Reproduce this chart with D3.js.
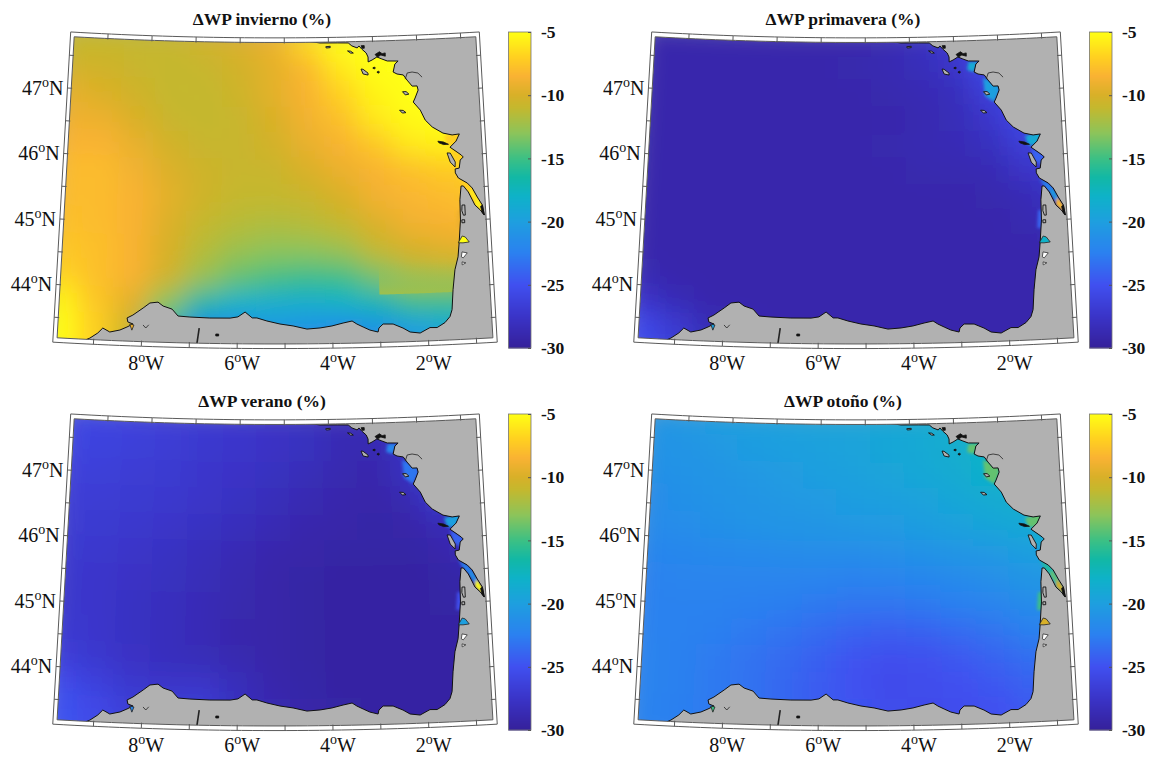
<!DOCTYPE html>
<html>
<head>
<meta charset="utf-8">
<script src="https://cdn.jsdelivr.net/npm/d3@7"></script>
<style>
  body { margin: 0; background: #fff; }
  text { font-family: "Liberation Serif", serif; fill: #111; }
</style>
</head>
<body>
<svg id="chart" width="1151" height="758"></svg>
<script>
const WIDTH = 1151;
const HEIGHT = 758;

// DATA
const TITLES = ['invierno', 'primavera', 'verano', 'otoño'];
const LON_LABELS = [-8, -6, -4, -2];
const LAT_LABELS = [47, 46, 45, 44];
const BAR_TICKS = [-5, -10, -15, -20, -25, -30];

// wave power change (%), rows north to south
const GRID_LONS = [-9.75, -9, -8.25, -7.5, -6.75, -6, -5.25, -4.5, -3.75, -3, -2.25, -1.5, -0.75];
const GRID_LATS = [47.8, 47.4, 47, 46.6, 46.2, 45.8, 45.4, 45, 44.6, 44.2, 43.8, 43.4, 43];

const invierno = [
  [-11, -11, -11, -10.8, -10.3, -9.8, -9, -6.5, -5, -5, -5, -5, -5],
  [-10.5, -10.5, -10.8, -11, -10.8, -10.3, -9.5, -8.2, -6, -5, -5, -5, -5],
  [-9.5, -10, -10.5, -11, -11, -10.5, -9.5, -8.5, -7, -5.5, -5, -5, -5],
  [-9, -9.2, -10, -10.8, -11, -10.8, -10, -8.8, -7.8, -6, -5.2, -5, -5],
  [-8.5, -8.5, -9.3, -10.3, -10.8, -10.8, -10.3, -9.3, -8.5, -7.5, -6, -5.5, -5.5],
  [-8, -8, -8.8, -9.8, -10.5, -10.8, -10.8, -10, -9.2, -8.5, -7.8, -7.3, -7],
  [-8, -8, -8.5, -9.5, -10.5, -11, -11, -10.8, -10, -8.8, -8.3, -8, -7.5],
  [-7.8, -8, -8.5, -9.8, -11, -11.5, -11.8, -11.5, -11, -9.8, -8.8, -8.5, -8],
  [-7.5, -7.8, -8.5, -10, -11.5, -12.5, -13, -13, -12.5, -11, -10, -9.5, -9],
  [-7, -7.8, -8.5, -10.3, -12.5, -14, -14.8, -15.3, -15, -13.5, -12, -11.5, -11.5],
  [-5.5, -7.5, -9.5, -13, -16.5, -18, -18.5, -18.5, -18, -17, -15, -15, -15],
  [-5, -7, -10.5, -16, -22, -21.5, -20.5, -21, -21.5, -21, -20, -19, -19],
  [-5, -7, -11, -17, -23, -23, -23, -22, -22, -21, -20.5, -19, -19]
];

const primavera = [
  [-29, -29, -29, -29, -29, -29, -29, -28.8, -28, -27, -25, -25, -25],
  [-29, -29, -29, -29, -29, -29, -28.9, -28.7, -28.3, -27.5, -25.5, -24, -24],
  [-29, -29, -29, -29, -29, -29, -29, -28.9, -28.6, -28.2, -26.5, -25, -25],
  [-29, -29, -29, -29, -29, -29, -29, -29, -28.8, -28.4, -27.4, -25.5, -25],
  [-29, -29, -29, -29, -29, -29, -29, -28.9, -28.7, -28.5, -28, -26.5, -26],
  [-29, -29, -29, -29, -29, -29, -29, -29, -28.9, -28.8, -28.6, -27.5, -26.5],
  [-29, -29, -29, -29, -29, -29, -29, -29, -29, -29, -28.9, -28.5, -27.5],
  [-29, -29, -29, -29, -29, -29, -29, -29, -29, -29, -29, -28.8, -28],
  [-29, -29, -29, -29, -29, -29, -29, -29, -29, -29, -29, -29, -29],
  [-28.8, -29, -29, -29, -29, -29, -29, -29, -29, -29, -29, -29, -29],
  [-27.6, -28.5, -29, -29, -29, -29, -29, -29, -29, -29, -29, -29, -29],
  [-25.5, -27, -28.4, -28.8, -29, -29, -29, -29, -29, -29, -29, -29, -29],
  [-25, -26.5, -28.4, -28.8, -29, -29, -29, -29, -29, -29, -29, -29, -29]
];

const verano = [
  [-25.8, -26, -26.3, -26.6, -26.9, -27.2, -27.6, -27.9, -28.5, -28.5, -26, -25, -25],
  [-26, -26.2, -26.5, -26.8, -27.1, -27.4, -27.7, -28, -28.6, -28.8, -28, -25, -25],
  [-26.3, -26.5, -26.8, -27, -27.3, -27.6, -28, -28.4, -28.8, -29, -28, -26, -26],
  [-26.6, -26.8, -27, -27.2, -27.5, -27.9, -28.3, -28.7, -29, -29.2, -28.8, -27, -27],
  [-26.8, -27, -27.2, -27.5, -27.9, -28.2, -28.6, -29, -29.2, -29.3, -29.2, -28.5, -28],
  [-27, -27.2, -27.5, -27.8, -28.2, -28.6, -29, -29.2, -29.4, -29.4, -29.4, -29, -28],
  [-27.2, -27.4, -27.7, -28, -28.4, -28.8, -29.2, -29.4, -29.5, -29.5, -29.5, -29.4, -29],
  [-27.2, -27.4, -27.8, -28.1, -28.5, -28.9, -29.2, -29.4, -29.5, -29.5, -29.5, -29.4, -29.4],
  [-27, -27.3, -27.8, -28.1, -28.5, -29, -29.2, -29.4, -29.5, -29.5, -29.5, -29.5, -29.5],
  [-26.6, -27.1, -27.7, -28.1, -28.4, -28.8, -29.2, -29.4, -29.5, -29.5, -29.5, -29.5, -29.5],
  [-25.5, -26.3, -27.2, -27.5, -27.5, -28.2, -29, -29.3, -29.5, -29.5, -29.5, -29.5, -29.5],
  [-24.8, -25.5, -26.5, -26.5, -26.5, -28, -28.8, -29.2, -29.4, -29.5, -29.5, -29.5, -29.5],
  [-24.8, -25.5, -26.5, -26.5, -26.5, -28, -28.8, -29.2, -29.4, -29.5, -29.5, -29.5, -29.5]
];

const otono = [
  [-20.8, -20.5, -20.2, -20, -19.8, -19.6, -19.5, -19.3, -19, -18.5, -18, -17.5, -17],
  [-21, -20.8, -20.5, -20.2, -20, -19.8, -19.6, -19.3, -19, -18.5, -18, -17.5, -17],
  [-21.2, -21, -20.8, -20.6, -20.3, -20, -19.8, -19.5, -19.2, -18.8, -18.2, -18, -18],
  [-21.5, -21.2, -21, -20.8, -20.6, -20.4, -20.2, -20, -19.7, -19.3, -18.8, -18.5, -18.5],
  [-21.6, -21.4, -21.2, -21, -20.9, -20.8, -20.6, -20.4, -20.2, -19.8, -19.4, -19, -19],
  [-22, -21.9, -21.8, -21.7, -21.6, -21.5, -21.5, -21.3, -21.1, -20.8, -20.5, -20, -19.5],
  [-22.3, -22.1, -22.1, -22.1, -22.1, -22.2, -22.3, -22.2, -22, -21.7, -21.3, -20.8, -20.5],
  [-22.3, -22.3, -22.3, -22.5, -22.6, -22.9, -23.1, -23.1, -22.9, -22.5, -22.1, -21.5, -21],
  [-22.3, -22.3, -22.5, -22.8, -23.2, -23.6, -24.1, -24.3, -24.1, -23.6, -23.1, -22.4, -22],
  [-22.2, -22.4, -22.7, -23.2, -23.6, -24.2, -24.9, -25.2, -25.1, -24.6, -24, -23.4, -23],
  [-22.2, -22.4, -22.8, -23.2, -23.8, -24.4, -25, -25.4, -25.3, -25, -24.6, -24, -24],
  [-22.2, -22.5, -22.8, -23.2, -23.8, -24.3, -24.8, -25.3, -25.4, -25.2, -25, -24.5, -24.5],
  [-22.2, -22.5, -22.8, -23.2, -23.8, -24.3, -24.8, -25.3, -25.4, -25.2, -25, -24.5, -24.5]
];

// the stepped area off Biscay in the winter field: west, east, south, north, value
const WINTER_STEP = { west: -3, east: -1.2, south: 43.92, north: 44.4, value: -12.3 };

// coast from the top of the map round the bay to the bottom edge, [lon, lat]
const COAST = [
  [-4.46, 47.8], [-4.19, 47.773], [-3.8, 47.77], [-3.55, 47.766], [-3.47, 47.72], [-3.35, 47.687],
  [-3.31, 47.717], [-3.25, 47.67], [-3.15, 47.607], [-3.11, 47.545], [-3.11, 47.47], [-3.02, 47.498],
  [-2.91, 47.542], [-2.8, 47.509], [-2.68, 47.476], [-2.55, 47.473], [-2.435, 47.47], [-2.51, 47.426],
  [-2.555, 47.305], [-2.47, 47.273], [-2.33, 47.255], [-2.25, 47.175], [-2.14, 47.08], [-2.03, 47.08],
  [-2.01, 47.016], [-2.085, 46.897], [-2.13, 46.837], [-1.98, 46.71], [-1.88, 46.556], [-1.73, 46.445],
  [-1.5, 46.345], [-1.3, 46.31], [-1.14, 46.32], [-1.22, 46.214], [-1.36, 46.125], [-1.21, 46.046],
  [-1.12, 45.997], [-1.08, 45.966], [-1.15, 45.922], [-1.18, 45.8], [-1.27, 45.79], [-1.27, 45.73],
  [-1.21, 45.65], [-1.02, 45.566], [-0.92, 45.487], [-0.82, 45.345], [-0.72, 45.219], [-0.69, 45.065],
  [-0.77, 45.145], [-0.88, 45.225], [-1.01, 45.43], [-1.11, 45.525], [-1.16, 45.526], [-1.2, 45.317],
  [-1.21, 45.01], [-1.26, 44.676], [-1.3, 44.45], [-1.38, 44.255], [-1.44, 43.952], [-1.48, 43.65],
  [-1.53, 43.547], [-1.64, 43.459], [-1.81, 43.388], [-1.96, 43.392], [-2.17, 43.315], [-2.38, 43.336],
  [-2.525, 43.4], [-2.73, 43.466], [-2.94, 43.471], [-3.03, 43.412], [-3.05, 43.351], [-3.22, 43.384],
  [-3.36, 43.433], [-3.49, 43.48], [-3.59, 43.528], [-3.78, 43.5], [-4.015, 43.458], [-4.265, 43.43],
  [-4.54, 43.415], [-4.83, 43.464], [-5.105, 43.494], [-5.38, 43.54], [-5.59, 43.586], [-5.69, 43.586],
  [-5.84, 43.675], [-5.99, 43.6], [-6.155, 43.58], [-6.58, 43.577], [-7, 43.586], [-7.25, 43.597],
  [-7.38, 43.7], [-7.57, 43.743], [-7.68, 43.8], [-7.85, 43.783], [-7.99, 43.703], [-8.2, 43.59],
  [-8.32, 43.543], [-8.3, 43.482], [-8.19, 43.454], [-8.315, 43.405], [-8.46, 43.355], [-8.67, 43.318],
  [-8.82, 43.374], [-8.92, 43.295], [-9.08, 43.212], [-9.16, 43.185]
];

// islands and lakes, grey / white / black fill
const GREY_ISLES = [
  [[-4.06, 47.715], [-3.96, 47.72], [-3.96, 47.7], [-4.05, 47.695]],
  [[-3.57, 47.645], [-3.5, 47.64], [-3.44, 47.61], [-3.5, 47.61]],
  [[-3.275, 47.364], [-3.23, 47.36], [-3.12, 47.3], [-3.12, 47.27], [-3.23, 47.288]],
  [[-2.36, 47], [-2.28, 47], [-2.22, 46.96], [-2.3, 46.95]],
  [[-2.44, 46.72], [-2.36, 46.715], [-2.3, 46.68], [-2.38, 46.675]],
  [[-1.43, 46.04], [-1.36, 46.035], [-1.26, 45.895], [-1.27, 45.82], [-1.37, 45.898]],
  [[-1.16, 45.235], [-1.1, 45.235], [-1.1, 45.08], [-1.14, 45.08], [-1.17, 45.15]],
  [[-1.18, 45.01], [-1.12, 45.01], [-1.12, 44.965], [-1.18, 44.965]]
];
const WHITE_LAKES = [
  [[-1.21, 44.522], [-1.1, 44.503], [-1.19, 44.43], [-1.23, 44.447]],
  [[-1.22, 44.37], [-1.14, 44.353], [-1.22, 44.324]]
];
const BLACK_ISLES = [
  [[-2.98, 47.39], [-2.95, 47.375], [-2.98, 47.36], [-3.01, 47.375]],
  [[-2.89, 47.325], [-2.86, 47.31], [-2.89, 47.295], [-2.92, 47.31]],
  [[-2.95, 47.58], [-2.85, 47.62], [-2.79, 47.59], [-2.72, 47.6], [-2.72, 47.55], [-2.82, 47.57], [-2.9, 47.54]],
  [[-3.26, 47.72], [-3.19, 47.72], [-3.19, 47.68], [-3.24, 47.68]],
  [[-1.62, 46.225], [-1.5, 46.21], [-1.39, 46.17], [-1.5, 46.17], [-1.6, 46.2]],
  [[-6.45, 43.335], [-6.39, 43.335], [-6.39, 43.305], [-6.45, 43.305]],
  [[-0.76, 45.2], [-0.72, 45.219], [-0.69, 45.065], [-0.73, 45.1]]
];
const THIN_LINES = [
  [[-2.29, 47.19], [-2.24, 47.283], [-2.13, 47.295], [-2, 47.276], [-1.91, 47.21]],
  [[-7.98, 43.445], [-7.92, 43.4], [-7.86, 43.45]],
  [[-6.8, 43.42], [-6.84, 43.19]]
];

// estuaries that the grid is too coarse for, [invierno, primavera, verano, otono]
const POCKETS = [
  { shape: [[-2.68, 47.46], [-2.45, 47.46], [-2.555, 47.305], [-2.71, 47.34]], values: [-5, -19, -22, -14] },
  { shape: [[-2.36, 47.21], [-2.01, 47.11], [-2.01, 46.986], [-2.13, 46.837], [-2.33, 46.934]], values: [-5, -20, -23, -14] },
  { shape: [[-1.48, 46.3], [-1.07, 46.376], [-1.18, 46.15], [-1.42, 46.16]], values: [-7, -19, -20, -14] },
  { shape: [[-1.36, 46.115], [-1.06, 45.995], [-1.16, 45.848], [-1.31, 45.928]], values: [-7, -24, -24, -19] },
  { shape: [[-1.21, 45.65], [-1.02, 45.566], [-0.92, 45.487], [-1.01, 45.43], [-1.11, 45.525]], values: [-7, -22, -22, -16] },
  { shape: [[-0.92, 45.487], [-0.82, 45.345], [-0.88, 45.28], [-1.01, 45.43]], values: [-6, -20, -21, -14] },
  { shape: [[-0.82, 45.345], [-0.72, 45.219], [-0.69, 45.065], [-0.77, 45.145], [-0.88, 45.225], [-0.88, 45.28]], values: [-5.5, -8, -5, -10] },
  { shape: [[-1.27, 45.16], [-1.16, 45.16], [-1.21, 44.886], [-1.31, 44.89]], values: [-9, -24, -25, -15] }
];
const LAND_POCKETS = [
  { shape: [[-1.28, 44.664], [-1.19, 44.764], [-1.125, 44.747], [-1.045, 44.668], [-1.18, 44.659]], values: [-5, -18, -20, -10] },
  { shape: [[-8.26, 43.452], [-8.17, 43.44], [-8.21, 43.36]], values: [-9, -20, -22, -15] }
];

const COLOR_STOPS = [-30, -27.5, -25, -22.5, -20, -18, -16.5, -15, -13, -11, -10, -8.5, -7, -5];
const COLORS = ['#35209a', '#3a34c8', '#4050f0', '#2b80f0', '#1e9fdf', '#0eb2c8', '#12b8a5', '#3cc084', '#8cc45a', '#c4b82e', '#d8b028', '#f9b233', '#ffd020', '#ffff14'];

// LAYOUT
const PANEL_OFFSETS = [[0, 0], [581, 0], [0, 382], [581, 382]];
const PANEL_VALUES = [invierno, primavera, verano, otono];
const OUTER = { west: -9.85, east: -0.57, south: 43.12, north: 47.855 };
const INNER = { west: -9.765, east: -0.655, south: 43.19, north: 47.785 };
const BAR = { x: 508.5, width: 22.5, top: 32, bottom: 348 };

const color = d3.scaleLinear().domain(COLOR_STOPS).range(COLORS);
const barScale = d3.scaleLinear().domain([-5, -30]).range([BAR.top, BAR.bottom]);

const R = 65.6 * 180 / Math.PI;
const projection = d3.geoConicConformal()
  .parallels([45.5, 45.5])
  .rotate([5.21, 0])
  .scale(R)
  .translate([0, 0]);
const origin = projection([-5.21, 45.5]);
const project = p => {
  const q = projection(p);
  return [q[0] - origin[0] + 275, q[1] - origin[1] + 192.4];
};
const line = d3.line();

// FUNCTIONS
function parallel(lat, lon0, lon1) {
  return d3.range(0, 41).map(i => [lon0 + (lon1 - lon0) * i / 40, lat]);
}

function boxRing(b) {
  return [
    ...parallel(b.north, b.west, b.east),
    [b.east, b.south],
    ...parallel(b.south, b.east, b.west),
    [b.west, b.north]
  ].map(project);
}

function shapePath(shape) {
  return line(shape.map(project)) + 'Z';
}

function drawBand(g) {
  g.append('path')
    .attr('d', line(boxRing(OUTER)) + 'Z' + line(boxRing(INNER)) + 'Z')
    .attr('fill', '#fff')
    .attr('fill-rule', 'evenodd')
    .attr('stroke', '#5a5a5a')
    .attr('stroke-width', 1);

  const lonTicks = d3.range(-9, 0).flatMap(lon => [
    [[lon, OUTER.north], [lon, INNER.north - 0.015]],
    [[lon, OUTER.south], [lon, INNER.south + 0.015]]
  ]);
  const latTicks = d3.range(43.5, 47.6, 0.5).flatMap(lat => [
    [[OUTER.west, lat], [INNER.west + 0.02, lat]],
    [[OUTER.east, lat], [INNER.east - 0.02, lat]]
  ]);
  g.selectAll('.tick-mark')
    .data(lonTicks.concat(latTicks))
    .join('path')
    .attr('class', 'tick-mark')
    .attr('d', d => line(d.map(project)))
    .attr('stroke', '#5a5a5a')
    .attr('stroke-width', 1);
}

function drawMapLabels(g) {
  g.selectAll('.lat-label')
    .data(LAT_LABELS)
    .join('text')
    .attr('class', 'lat-label')
    .attr('text-anchor', 'end')
    .attr('font-size', 20)
    .attr('x', d => project([OUTER.west, d])[0] - 4)
    .attr('y', d => project([OUTER.west, d])[1] + 7)
    .each(function (d) {
      const t = d3.select(this);
      t.append('tspan').text(d);
      t.append('tspan').attr('dy', -8).attr('font-size', 14).text('o');
      t.append('tspan').attr('dy', 8).text('N');
    });

  g.selectAll('.lon-label')
    .data(LON_LABELS)
    .join('text')
    .attr('class', 'lon-label')
    .attr('text-anchor', 'middle')
    .attr('font-size', 20)
    .attr('x', d => project([d, OUTER.south])[0] + 5)
    .attr('y', 370)
    .each(function (d) {
      const t = d3.select(this);
      t.append('tspan').text(Math.abs(d));
      t.append('tspan').attr('dy', -8).attr('font-size', 14).text('o');
      t.append('tspan').attr('dy', 8).text('W');
    });
}

function drawColorbar(g) {
  g.selectAll('.bar-step')
    .data(d3.range(0, 316))
    .join('rect')
    .attr('class', 'bar-step')
    .attr('x', BAR.x)
    .attr('y', d => BAR.top + d)
    .attr('width', BAR.width)
    .attr('height', 1.5)
    .attr('fill', d => color(barScale.invert(BAR.top + d + 0.5)));

  g.append('rect')
    .attr('x', BAR.x)
    .attr('y', BAR.top)
    .attr('width', BAR.width)
    .attr('height', BAR.bottom - BAR.top)
    .attr('fill', 'none')
    .attr('stroke', '#777')
    .attr('stroke-width', 0.8);

  const axis = g.append('g')
    .attr('transform', `translate(${BAR.x + BAR.width},0)`)
    .call(d3.axisRight(barScale).tickValues(BAR_TICKS).tickSize(-3).tickPadding(10).tickFormat(d => d));
  axis.select('.domain').remove();
  axis.selectAll('line').attr('stroke', '#555');
  axis.selectAll('text')
    .attr('font-size', 17.5)
    .attr('font-weight', 'bold')
    .attr('font-family', '"Liberation Serif", serif');
}

function drawPanel(i) {
  const values = PANEL_VALUES[i];
  const g = svg.append('g')
    .attr('transform', `translate(${PANEL_OFFSETS[i][0]},${PANEL_OFFSETS[i][1]})`);

  g.append('text')
    .attr('x', 262)
    .attr('y', 25)
    .attr('text-anchor', 'middle')
    .attr('font-size', 17.5)
    .attr('font-weight', 'bold')
    .text(`ΔWP ${TITLES[i]} (%)`);

  g.append('path')
    .attr('d', line(boxRing(INNER)) + 'Z')
    .attr('fill', '#b1b1b1');

  const cells = values.flatMap((row, r) => row.map((v, c) => ({ v, r, c })));
  const sea = g.append('g').attr('clip-path', 'url(#sea)');
  sea.append('g')
    .attr('filter', 'url(#field-blur)')
    .selectAll('path')
    .data(cells)
    .join('path')
    .attr('d', d => {
      const lon = GRID_LONS[d.c];
      const lat = GRID_LATS[d.r];
      return shapePath([[lon - 0.375, lat + 0.2], [lon + 0.375, lat + 0.2], [lon + 0.375, lat - 0.2], [lon - 0.375, lat - 0.2]]);
    })
    .attr('fill', d => color(d.v))
    .attr('stroke', d => color(d.v))
    .attr('stroke-width', 1);

  if (i === 0) {
    const s = WINTER_STEP;
    sea.append('path')
      .attr('d', shapePath([...parallel(s.north, s.west, s.east), ...parallel(s.south, s.east, s.west)]))
      .attr('fill', 'url(#step-fade)');
  }

  sea.append('g')
    .attr('filter', 'url(#pocket-blur)')
    .selectAll('path')
    .data(POCKETS)
    .join('path')
    .attr('d', d => shapePath(d.shape))
    .attr('fill', d => color(d.values[i]));

  g.append('path')
    .attr('d', line(COAST.map(project)))
    .attr('fill', 'none')
    .attr('stroke', '#111')
    .attr('stroke-width', 1)
    .attr('stroke-linejoin', 'round');

  g.selectAll('.grey-isle')
    .data(GREY_ISLES)
    .join('path')
    .attr('class', 'grey-isle')
    .attr('d', shapePath)
    .attr('fill', '#b1b1b1')
    .attr('stroke', '#111')
    .attr('stroke-width', 0.9);

  g.selectAll('.white-lake')
    .data(WHITE_LAKES)
    .join('path')
    .attr('class', 'white-lake')
    .attr('d', shapePath)
    .attr('fill', '#fff')
    .attr('stroke', '#333')
    .attr('stroke-width', 0.8);

  g.selectAll('.black-isle')
    .data(BLACK_ISLES)
    .join('path')
    .attr('class', 'black-isle')
    .attr('d', shapePath)
    .attr('fill', '#111')
    .attr('stroke', '#111')
    .attr('stroke-width', 0.8);

  g.selectAll('.land-pocket')
    .data(LAND_POCKETS)
    .join('path')
    .attr('class', 'land-pocket')
    .attr('d', d => shapePath(d.shape))
    .attr('fill', d => color(d.values[i]))
    .attr('stroke', '#222')
    .attr('stroke-width', 0.8);

  g.selectAll('.thin-line')
    .data(THIN_LINES)
    .join('path')
    .attr('class', 'thin-line')
    .attr('d', d => line(d.map(project)))
    .attr('fill', 'none')
    .attr('stroke', '#222')
    .attr('stroke-width', (d, j) => (j === 2 ? 1.6 : 0.8));

  drawBand(g);
  drawMapLabels(g);
  drawColorbar(g);
}

// DRAW
const svg = d3.select('#chart');
const defs = svg.append('defs');

const seaRing = [
  ...parallel(INNER.north, INNER.west, -4.46),
  ...COAST,
  ...parallel(INNER.south, -9.16, INNER.west)
].map(project);
defs.append('clipPath').attr('id', 'sea')
  .append('path')
  .attr('d', line(seaRing) + 'Z');

defs.append('filter')
  .attr('id', 'field-blur')
  .attr('filterUnits', 'userSpaceOnUse')
  .attr('x', 0).attr('y', 0).attr('width', WIDTH).attr('height', HEIGHT)
  .append('feGaussianBlur')
  .attr('stdDeviation', 13)
  .attr('edgeMode', 'duplicate');

defs.append('filter')
  .attr('id', 'pocket-blur')
  .attr('filterUnits', 'userSpaceOnUse')
  .attr('x', 0).attr('y', 0).attr('width', WIDTH).attr('height', HEIGHT)
  .append('feGaussianBlur')
  .attr('stdDeviation', 1.5);

const stepFade = defs.append('linearGradient')
  .attr('id', 'step-fade')
  .attr('gradientUnits', 'userSpaceOnUse')
  .attr('x1', 0).attr('x2', 0)
  .attr('y1', project([-2, WINTER_STEP.north])[1])
  .attr('y2', project([-2, WINTER_STEP.south])[1]);
stepFade.append('stop').attr('offset', 0).attr('stop-color', color(WINTER_STEP.value)).attr('stop-opacity', 0);
stepFade.append('stop').attr('offset', 1).attr('stop-color', color(WINTER_STEP.value)).attr('stop-opacity', 0.95);

d3.range(4).forEach(drawPanel);
</script>
</body>
</html>
